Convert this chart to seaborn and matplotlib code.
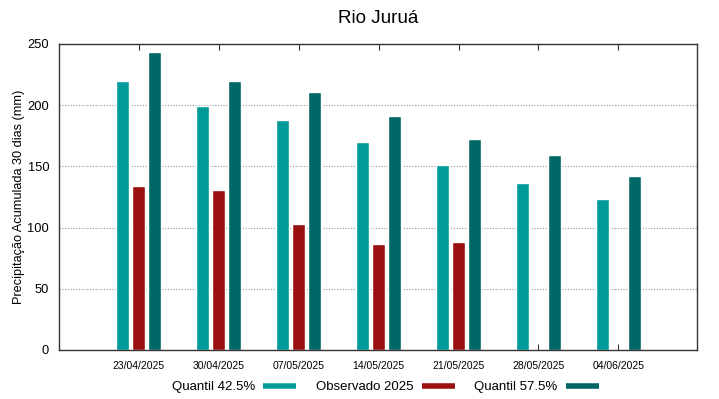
import matplotlib
matplotlib.use("Agg")
import matplotlib.pyplot as plt
from matplotlib.lines import Line2D
import numpy as np
import pandas as pd
import seaborn as sns

datas = ["23/04/2025", "30/04/2025", "07/05/2025", "14/05/2025",
         "21/05/2025", "28/05/2025", "04/06/2025"]
quantil_425 = [220, 199, 188, 170, 151, 136, 123]
observado = [134, 131, 103, 86.5, 88.5, np.nan, np.nan]
quantil_575 = [243.5, 220, 210.5, 191.5, 172, 159, 142]

series = ["Quantil 42.5%", "Observado 2025", "Quantil 57.5%"]
cores = ["#009a9a", "#9a0f0f", "#006767"]

df = pd.DataFrame({
    "data": datas * 3,
    "serie": [s for s in series for _ in datas],
    "valor": quantil_425 + observado + quantil_575,
})

sns.set_style("white")
plt.rcParams["font.family"] = ["Liberation Sans", "DejaVu Sans"]
plt.rcParams["text.color"] = "black"
plt.rcParams["axes.labelcolor"] = "black"
plt.rcParams["xtick.color"] = "#333333"
plt.rcParams["ytick.color"] = "#333333"
plt.rcParams["xtick.labelcolor"] = "black"
plt.rcParams["ytick.labelcolor"] = "black"

fig = plt.figure(figsize=(7.19, 3.99), dpi=100)
ax = fig.add_axes([0.082, 0.123, 0.887, 0.767])

sns.barplot(data=df, x="data", y="valor", hue="serie", hue_order=series,
            palette=cores, width=0.6, gap=0.2, errorbar=None,
            saturation=1, legend=False, ax=ax, zorder=3)

ax.set_xlim(-1, 6.98)
ax.set_ylim(0, 250)
ax.set_yticks([0, 50, 100, 150, 200, 250])
for y in [50, 100, 150, 200]:
    ax.axhline(y, color="#999999", lw=0.8, ls=(0, (1, 1.5)), zorder=1)

ax.tick_params(axis="x", which="both", direction="in", top=True, bottom=True,
               length=4, labelsize=7.5, pad=8)
ax.tick_params(axis="y", direction="in", length=0, labelsize=9.3, pad=7)
for s in ax.spines.values():
    s.set_color("#333333")
    s.set_linewidth(1)
    s.set_zorder(4)

ax.set_xlabel("")
ax.set_ylabel("Precipitação Acumulada 30 dias (mm)", fontsize=9.2, labelpad=2)
ax.set_title("Rio Juruá", fontsize=13.6, pad=15)

handles = [Line2D([0], [0], color=c, lw=4, solid_capstyle="butt") for c in cores]
fig.legend(handles, series, loc="center", bbox_to_anchor=(0.536, 0.03),
           ncol=3, frameon=False, markerfirst=False, fontsize=9.5,
           handlelength=2.5, handletextpad=0.6, columnspacing=1.5)

fig.savefig("out.png", dpi=100)
